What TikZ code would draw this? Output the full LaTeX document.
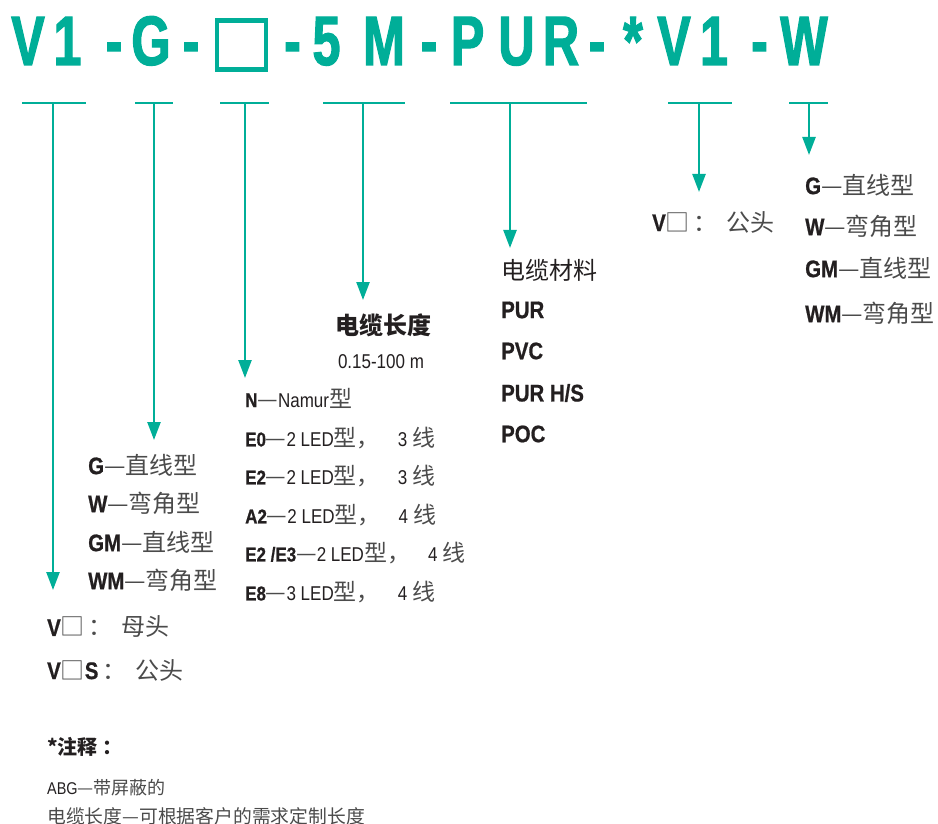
\documentclass[tikz,border=0pt]{standalone}
\usepackage{fontspec}
\setmainfont{Liberation Sans}
\newfontfamily\cjk{Noto Sans CJK SC}
\newfontfamily\cond[FakeStretch=0.85, BoldFeatures={FakeBold=0.7}]{Liberation Sans}
\newfontfamily\titlefont[FakeStretch=0.72, FakeBold=1.6, UprightFont=* Bold]{Liberation Sans}
\usetikzlibrary{arrows.meta,positioning}
\definecolor{Teal}{RGB}{0,174,152}
\definecolor{Ink}{RGB}{35,31,32}
\definecolor{InkLight}{RGB}{75,75,75}

\newcommand{\lb}[1]{{\cond\bfseries #1}}
\newcommand{\lr}[1]{{\cond #1}}
\newcommand{\zh}[1]{{\cjk\color{InkLight}#1}}
\newcommand{\zhE}[1]{{\cjk\color{InkLight}\fontsize{23}{23}\selectfont #1}}

\begin{document}
\begin{tikzpicture}[
    x=1pt, y=-1pt,
    title/.style={font=\titlefont\fontsize{70}{70}\selectfont, text=Teal, inner sep=0pt, anchor=base},
    uline/.style={line width=2.2pt, Teal},
    arr/.style={line width=2.4pt, Teal, -{Triangle[length=18pt,width=13pt]}},
    big/.style={font=\fontsize{24}{24}\selectfont, text=Ink, inner sep=0pt, anchor=west},
    mid/.style={font=\fontsize{20}{20}\selectfont, text=Ink, inner sep=0pt, anchor=west},
    note/.style={font=\fontsize{17}{17}\selectfont, text=Ink, inner sep=0pt, anchor=west}
  ]
    \useasboundingbox (0,0) rectangle (938,824);
    % order code
    \foreach \ch/\xc [count=\i] in {V/28, 1/67.5, -/114, G/151, -/191, -/292.5, 5/326.5, M/384, -/429,
        P/467.5, U/516.5, R/561, -/597, */633, V/674, 1/714, -/759.5, W/804}
      \node[title] (t\i) at (\xc,65) {\ch};
    \node[draw=Teal, line width=4.5pt, minimum width=49pt, minimum height=49pt, inner sep=0pt] (tbox) at (241.5,45) {};
    % underlines and arrows
    \foreach \nm/\xl/\xr/\xm/\ye in {vone/22/86/53/590, grp/135/173/154/440, sw/220/269/245/378,
        len/323/405/363/300, mat/450/587/510/248, vtwo/668/732/699/192, wtype/789/828/809/155}{
      \coordinate (\nm-l) at (\xl,103);
      \coordinate (\nm-r) at (\xr,103);
      \coordinate (\nm-top) at (\xm,103);
      \coordinate (\nm-end) at (\xm,\ye);
      \draw[uline] (\nm-l) -- (\nm-r);
      \draw[arr] (\nm-top) -- (\nm-end);
    }
    % connector direction
    \node[big] (g1) at (88,465) {\lb{G}\zh{—直线型}};
    \node[big] (g2) at (88,503) {\lb{W}\zh{—弯角型}};
    \node[big] (g3) at (88,542) {\lb{GM}\zh{—直线型}};
    \node[big] (g4) at (88,580) {\lb{WM}\zh{—弯角型}};
    % female / male
    \node[big] (f1) at (47,627) {\lb{V}\zh{□\,：\hspace{0.35em}母头}};
    \node[big] (f2) at (47,670) {\lb{V}\zh{□}\lb{S}\zh{\,：\hspace{0.4em}公头}};
    % cable length
    \node[big, anchor=center] (len) at (383,325) {\zh{\bfseries\color{Ink}电缆长度}};
    \node[mid, anchor=center] (lenv) at (381,362) {\lr{0.15-100 m}};
    % switching type
    \node[mid] (e1) at (245,398) {\lb{N}\zhE{—}\lr{Namur}\zhE{型}};
    \node[mid] (e2) at (245,438) {\lb{E0}\zhE{—}\lr{2 LED}\zhE{型，}\hspace{0.9em}\lr{3}\zhE{ 线}};
    \node[mid] (e3) at (245,476) {\lb{E2}\zhE{—}\lr{2 LED}\zhE{型，}\hspace{0.9em}\lr{3}\zhE{ 线}};
    \node[mid] (e4) at (245,515) {\lb{A2}\zhE{—}\lr{2 LED}\zhE{型，}\hspace{0.9em}\lr{4}\zhE{ 线}};
    \node[mid] (e5) at (245,553) {\lb{E2 /E3}\zhE{—}\lr{2 LED}\zhE{型，}\hspace{0.9em}\lr{4}\zhE{ 线}};
    \node[mid] (e6) at (245,592) {\lb{E8}\zhE{—}\lr{3 LED}\zhE{型，}\hspace{0.9em}\lr{4}\zhE{ 线}};
    % cable material
    \node[big] (m0) at (501,270) {\zh{\color{Ink}电缆材料}};
    \node[big] (m1) at (501,310) {\lb{PUR}};
    \node[big] (m2) at (501,351) {\lb{PVC}};
    \node[big] (m3) at (501,393) {\lb{PUR H/S}};
    \node[big] (m4) at (501,434) {\lb{POC}};
    % second connector
    \node[big] (v2) at (652,222) {\lb{V}\zh{□\,：\hspace{0.35em}公头}};
    \node[big] (w1) at (805,185) {\lb{G}\zh{—直线型}};
    \node[big] (w2) at (805,226) {\lb{W}\zh{—弯角型}};
    \node[big] (w3) at (805,268) {\lb{GM}\zh{—直线型}};
    \node[big] (w4) at (805,313) {\lb{WM}\zh{—弯角型}};
    % notes
    \node[note] (n0) at (47,747) {\zh{\fontsize{20}{20}\selectfont\bfseries\color{Ink}*注释 ：}};
    \node[note] (n1) at (47,788) {\lr{ABG}\zh{\fontsize{18}{18}\selectfont —带屏蔽的}};
    \node[note] (n2) at (47,816) {\zh{\fontsize{18.8}{18.8}\selectfont 电缆长度—可根据客户的需求定制长度}};
\end{tikzpicture}
\end{document}
